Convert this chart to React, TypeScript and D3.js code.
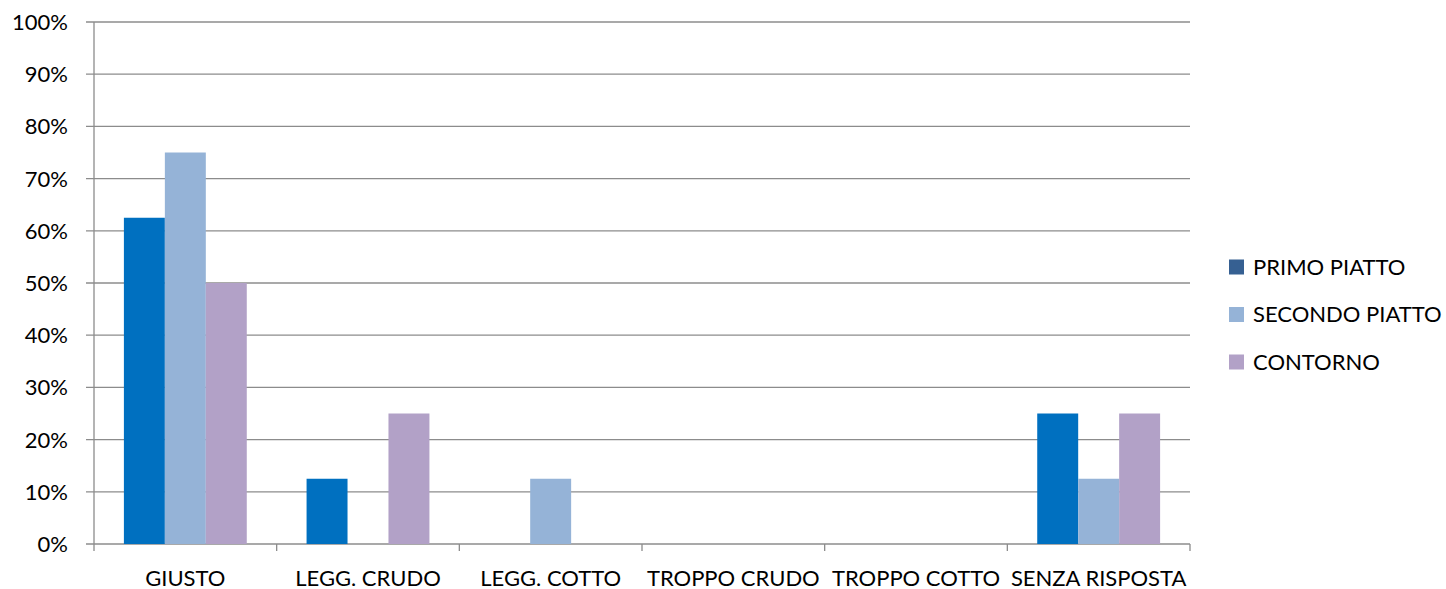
import React from "react";
import * as d3 from "d3";

const categories = ["GIUSTO", "LEGG. CRUDO", "LEGG. COTTO", "TROPPO CRUDO", "TROPPO COTTO", "SENZA RISPOSTA"];
const seriesNames = ["PRIMO PIATTO", "SECONDO PIATTO", "CONTORNO"];
const primo = [0.625, 0.125, 0, 0, 0, 0.25];
const secondo = [0.75, 0, 0.125, 0, 0, 0.125];
const contorno = [0.5, 0.25, 0, 0, 0, 0.25];
const yTicks = [0, 0.1, 0.2, 0.3, 0.4, 0.5, 0.6, 0.7, 0.8, 0.9, 1.0];

const barColors = ["#0070C0", "#95B3D7", "#B2A1C7"];
const legendColors = ["#366092", "#95B3D7", "#B2A1C7"];

export default function App() {
  const W = 1446, H = 589;
  const left = 94, right = 1190, top = 22, bottom = 544;
  const font = "Lato, 'Open Sans', sans-serif";
  const fs = 22;
  const x = d3.scaleBand<string>().domain(categories).range([left, right]).paddingInner(0).paddingOuter(0);
  const y = d3.scaleLinear().domain([0, 1]).range([bottom, top]);
  const inner = d3.scaleBand<string>().domain(seriesNames).range([0, x.bandwidth()]).paddingInner(0).paddingOuter(0.73);
  const series = [primo, secondo, contorno];
  const fmt = d3.format(".0%");
  const grid = "#8C8C8C";
  return (
    <svg width={W} height={H} style={{ position: "absolute", left: 0, top: 0, background: "#fff" }}>
      {yTicks.map((t) => (
        <g key={t}>
          <line x1={left - 8} x2={right} y1={y(t)} y2={y(t)} stroke={grid} strokeWidth={1.3} />
          <text x={68} y={y(t)} dy="0.36em" textAnchor="end" fontFamily={font} fontSize={fs} fill="#000">{fmt(t)}</text>
        </g>
      ))}
      <line x1={left} x2={left} y1={top} y2={bottom + 7} stroke={grid} strokeWidth={1.3} />
      {categories.map((c) => (
        <line key={"tk" + c} x1={x(c)! + x.bandwidth()} x2={x(c)! + x.bandwidth()} y1={bottom} y2={bottom + 7} stroke={grid} strokeWidth={1.3} />
      ))}
      {series.map((vals, si) =>
        categories.map((c, ci) =>
          vals[ci] > 0 ? (
            <rect key={si + "-" + ci} x={x(c)! + inner(seriesNames[si])!} width={inner.bandwidth()} y={y(vals[ci])} height={bottom - y(vals[ci])} fill={barColors[si]} />
          ) : null
        )
      )}
      {categories.map((c) => (
        <text key={"l" + c} x={x(c)! + x.bandwidth() / 2} y={586} textAnchor="middle" fontFamily={font} fontSize={fs} fill="#000">{c}</text>
      ))}
      {seriesNames.map((s, i) => (
        <g key={s} transform={`translate(1229, ${267 + i * 47.5})`}>
          <rect x={0} y={-7.5} width={15} height={15} fill={legendColors[i]} />
          <text x={24} y={0} dy="0.36em" fontFamily={font} fontSize={fs} fill="#000">{s}</text>
        </g>
      ))}
    </svg>
  );
}
